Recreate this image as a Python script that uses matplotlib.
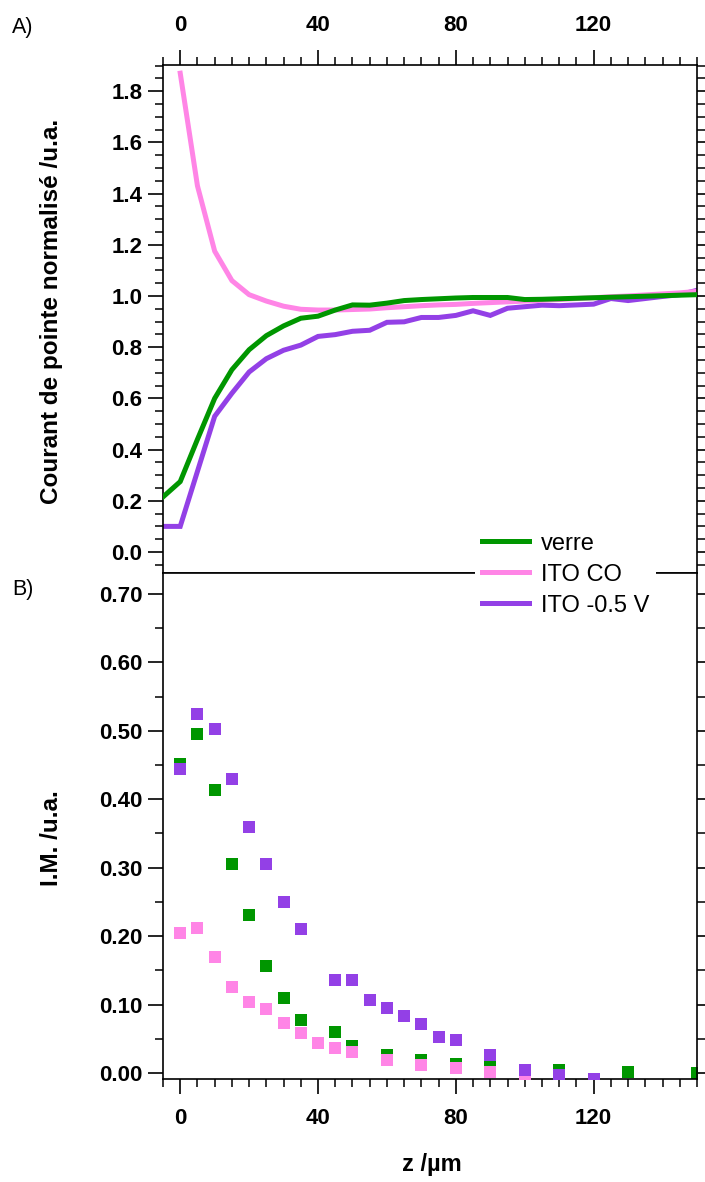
import matplotlib
matplotlib.use("Agg")
import matplotlib.pyplot as plt
from matplotlib.ticker import MultipleLocator, FormatStrFormatter
from matplotlib.lines import Line2D

# ---------------- data ----------------
# Panel A : normalised tip current vs z
z_verre_A = [-5, 0, 5, 10, 15, 20, 25, 30, 35, 40, 45, 50, 55, 60, 65, 70, 75, 80, 85, 90,
             95, 100, 105, 110, 115, 120, 125, 130, 135, 140, 145, 150]
i_verre_A = [0.215, 0.275, 0.44, 0.60, 0.712, 0.79, 0.845, 0.883, 0.913, 0.921, 0.945, 0.965,
             0.964, 0.972, 0.982, 0.986, 0.989, 0.992, 0.994, 0.994, 0.994, 0.986, 0.987, 0.989,
             0.991, 0.993, 0.995, 0.997, 0.999, 1.001, 1.003, 1.005]

z_itoco_A = [0, 5, 10, 15, 20, 25, 30, 35, 40, 45, 50, 55, 60, 65, 70, 75, 80, 85, 90,
             95, 100, 105, 110, 115, 120, 125, 130, 135, 140, 145, 150]
i_itoco_A = [1.87, 1.43, 1.175, 1.06, 1.005, 0.98, 0.96, 0.948, 0.945, 0.945, 0.947, 0.949,
             0.954, 0.958, 0.962, 0.965, 0.967, 0.971, 0.974, 0.977, 0.98, 0.983, 0.986, 0.99,
             0.993, 0.997, 1.0, 1.004, 1.008, 1.012, 1.018]

z_ito05_A = [-5, 0, 5, 10, 15, 20, 25, 30, 35, 40, 45, 50, 55, 60, 65, 70, 75, 80, 85, 90,
             95, 100, 105, 110, 115, 120, 125, 130, 135, 140, 145, 150]
i_ito05_A = [0.10, 0.10, 0.315, 0.53, 0.62, 0.703, 0.755, 0.788, 0.808, 0.842, 0.849, 0.862,
             0.866, 0.897, 0.899, 0.916, 0.916, 0.924, 0.942, 0.924, 0.952, 0.958, 0.964, 0.962,
             0.965, 0.968, 0.99, 0.982, 0.99, 0.998, 1.005, 1.022]

# Panel B : I.M. vs z
z_verre_B = [0, 5, 10, 15, 20, 25, 30, 35, 45, 50, 60, 70, 80, 90, 110, 130, 150]
m_verre_B = [0.451, 0.495, 0.413, 0.306, 0.231, 0.157, 0.109, 0.077, 0.060, 0.040, 0.026,
             0.019, 0.013, 0.012, 0.005, 0.002, 0.000]

z_itoco_B = [0, 5, 10, 15, 20, 25, 30, 35, 40, 45, 50, 60, 70, 80, 90, 100]
m_itoco_B = [0.204, 0.212, 0.169, 0.125, 0.104, 0.094, 0.073, 0.059, 0.044, 0.037, 0.030,
             0.019, 0.012, 0.007, 0.002, -0.003]

z_ito05_B = [0, 5, 10, 15, 20, 25, 30, 35, 45, 50, 55, 60, 65, 70, 75, 80, 90, 100, 110, 120]
m_ito05_B = [0.444, 0.525, 0.502, 0.429, 0.359, 0.305, 0.250, 0.210, 0.136, 0.136, 0.106,
             0.095, 0.083, 0.072, 0.053, 0.048, 0.026, 0.005, -0.003, -0.009]

labels = ["verre", "ITO CO", "ITO -0.5 V"]
colors = ["#009600", "#ff85e6", "#9340e6"]

# ---------------- figure ----------------
W, H = 705, 1182
fig = plt.figure(figsize=(W / 100, H / 100), dpi=100)
plt.rcParams['font.family'] = ['Liberation Sans', 'DejaVu Sans']


def rect(l, t, r, b):
    return [l / W, 1 - b / H, (r - l) / W, (b - t) / H]


axA = fig.add_axes(rect(163, 65, 697, 573))
axB = fig.add_axes(rect(163, 573, 697, 1079))

lw = 3.6
axA.plot(z_verre_A, i_verre_A, color=colors[0], lw=lw, solid_joinstyle='miter', zorder=3)
axA.plot(z_itoco_A, i_itoco_A, color=colors[1], lw=lw, solid_joinstyle='miter', zorder=2)
axA.plot(z_ito05_A, i_ito05_A, color=colors[2], lw=lw, solid_joinstyle='miter', zorder=1)

ms = 9.2
axB.plot(z_verre_B, m_verre_B, 's', color=colors[0], ms=ms, mew=0, zorder=2)
axB.plot(z_itoco_B, m_itoco_B, 's', color=colors[1], ms=ms, mew=0, zorder=3)
axB.plot(z_ito05_B, m_ito05_B, 's', color=colors[2], ms=ms, mew=0, zorder=4)

for ax in (axA, axB):
    ax.set_xlim(-5, 150)
    ax.xaxis.set_major_locator(MultipleLocator(40))
    ax.xaxis.set_minor_locator(MultipleLocator(5))
    for s in ax.spines.values():
        s.set_linewidth(1.2)
    ax.tick_params(which='major', length=11, width=1.2, labelsize=16, pad=4)
    ax.tick_params(which='minor', length=5.5, width=1.1)
    ax.tick_params(axis='y', which='both', left=True, right=True, labelleft=True, labelright=False)
    ax.tick_params(axis='x', which='major', pad=10)

axA.set_ylim(-0.082, 1.902)
axA.yaxis.set_major_locator(MultipleLocator(0.2))
axA.yaxis.set_minor_locator(MultipleLocator(0.05))
axA.yaxis.set_major_formatter(FormatStrFormatter('%.1f'))
axA.tick_params(axis='x', which='both', top=True, bottom=False, labeltop=True, labelbottom=False)

axB.set_ylim(-0.0088, 0.7307)
axB.yaxis.set_major_locator(MultipleLocator(0.1))
axB.yaxis.set_minor_locator(MultipleLocator(0.05))
axB.yaxis.set_major_formatter(FormatStrFormatter('%.2f'))
axB.tick_params(axis='x', which='both', top=False, bottom=True, labeltop=False, labelbottom=True)

for ax in (axA, axB):
    for t in ax.get_xticklabels() + ax.get_yticklabels():
        t.set_fontweight('bold')

fig.text(52 / W, 1 - 311 / H, "Courant de pointe normalisé /u.a.", rotation=90,
         ha='center', va='center', fontsize=17.5, fontweight='bold')
fig.text(52 / W, 1 - 838 / H, "I.M. /u.a.", rotation=90,
         ha='center', va='center', fontsize=17.5, fontweight='bold')
fig.text(432 / W, 1 - 1165 / H, "z /µm", ha='center', va='center',
         fontsize=17, fontweight='bold')
fig.text(12 / W, 1 - 28 / H, "A)", ha='left', va='center', fontsize=15.5)
fig.text(12 / W, 1 - 590 / H, "B)", ha='left', va='center', fontsize=15.5)

handles = [Line2D([], [], color=c, lw=lw) for c in colors]
leg = fig.legend(handles, labels, loc='upper left', bbox_to_anchor=(475 / W, 1 - 526 / H),
                 frameon=True, fancybox=False, fontsize=17, handlelength=2.0,
                 handletextpad=0.5, labelspacing=0.38, borderpad=0.28, borderaxespad=0)
leg.get_frame().set_edgecolor('none')
leg.get_frame().set_facecolor('white')
leg.get_frame().set_alpha(1)

fig.savefig("out.png", dpi=100)
